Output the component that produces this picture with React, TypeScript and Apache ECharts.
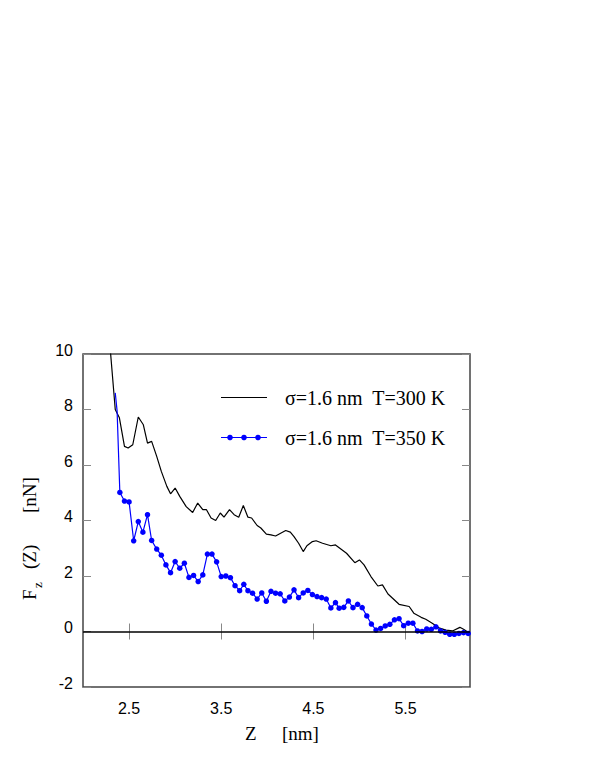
import React, { useEffect, useRef } from "react";
import * as echarts from "echarts";

// T = 300 K (black line): Z [nm], Fz [nN]
const blackZ = [2.29, 2.35, 2.395, 2.45, 2.49, 2.54, 2.6, 2.655, 2.7, 2.745, 2.8, 2.85, 2.91, 2.95, 3.0, 3.05, 3.12, 3.19, 3.245, 3.3, 3.34, 3.39, 3.44, 3.49, 3.53, 3.59, 3.64, 3.69, 3.74, 3.79, 3.83, 3.89, 3.93, 3.99, 4.04, 4.09, 4.15, 4.2, 4.25, 4.29, 4.34, 4.39, 4.43, 4.49, 4.53, 4.6, 4.69, 4.74, 4.78, 4.86, 4.95, 5.0, 5.05, 5.125, 5.2, 5.25, 5.31, 5.36, 5.43, 5.54, 5.59, 5.67, 5.72, 5.79, 5.87, 5.94, 6.01, 6.09, 6.13, 6.2];
const blackF = [10.4, 8.0, 7.7, 6.67, 6.61, 6.73, 7.73, 7.45, 6.79, 6.85, 6.31, 5.77, 5.23, 4.96, 5.17, 4.87, 4.5, 4.29, 4.63, 4.39, 4.39, 4.09, 4.0, 4.27, 4.12, 4.39, 4.21, 4.12, 4.54, 4.12, 4.09, 3.82, 3.73, 3.51, 3.48, 3.44, 3.55, 3.64, 3.58, 3.42, 3.18, 2.88, 3.09, 3.24, 3.27, 3.18, 3.09, 3.12, 3.02, 2.82, 2.48, 2.58, 2.4, 1.98, 1.64, 1.68, 1.35, 1.2, 0.98, 0.9, 0.66, 0.51, 0.44, 0.3, 0.12, 0.05, 0.02, 0.15, 0.08, -0.07];

// T = 350 K (blue line with dots)
const blueZ = [2.35, 2.37, 2.4, 2.45, 2.5, 2.55, 2.6, 2.65, 2.7, 2.745, 2.8, 2.85, 2.9, 2.95, 3.0, 3.05, 3.1, 3.15, 3.2, 3.25, 3.3, 3.35, 3.4, 3.45, 3.5, 3.55, 3.6, 3.65, 3.7, 3.745, 3.79, 3.84, 3.89, 3.94, 3.99, 4.04, 4.09, 4.14, 4.19, 4.24, 4.29, 4.34, 4.39, 4.44, 4.49, 4.54, 4.59, 4.64, 4.69, 4.74, 4.78, 4.83, 4.88, 4.93, 4.98, 5.03, 5.08, 5.13, 5.18, 5.23, 5.28, 5.33, 5.38, 5.43, 5.48, 5.53, 5.58, 5.63, 5.68, 5.73, 5.78, 5.83, 5.88, 5.93, 5.98, 6.03, 6.08, 6.13, 6.18];
const blueF = [8.6, 7.95, 5.01, 4.7, 4.67, 3.27, 3.96, 3.58, 4.21, 3.28, 2.97, 2.75, 2.4, 2.12, 2.52, 2.28, 2.46, 1.95, 2.02, 1.8, 2.04, 2.79, 2.79, 2.51, 1.98, 2.0, 1.94, 1.65, 1.47, 1.7, 1.47, 1.38, 1.17, 1.39, 1.09, 1.45, 1.38, 1.36, 1.1, 1.24, 1.5, 1.22, 1.39, 1.48, 1.33, 1.26, 1.22, 1.17, 0.85, 1.04, 0.84, 0.87, 1.1, 0.86, 0.98, 0.86, 0.56, 0.27, 0.05, 0.11, 0.2, 0.26, 0.42, 0.46, 0.21, 0.3, 0.3, 0.02, 0.0, 0.09, 0.08, 0.17, 0.02, -0.03, -0.1, -0.1, -0.07, -0.04, -0.07];
const blueFirstMarked = 2;

const xTicks = [2.5, 3.5, 4.5, 5.5];
const legendNames = ["σ=1.6 nm  T=300 K", "σ=1.6 nm  T=350 K"];

const SANS = "'Liberation Sans', Arial, Helvetica, sans-serif";
const SERIF = "'Liberation Serif', 'Times New Roman', serif";

export default function App() {
  const ref = useRef<HTMLDivElement>(null);
  useEffect(() => {
    if (!ref.current) return;
    const chart = echarts.init(ref.current, null, { renderer: "svg" });
    const tickStyle = { color: "#888", width: 1 };
    const option: any = {
      animation: false,
      backgroundColor: "#fff",
      grid: {
        left: 83,
        top: 354,
        right: 125,
        bottom: 83,
        show: true,
        borderColor: "#444",
        borderWidth: 1.5,
        backgroundColor: "transparent",
      },
      xAxis: [
        {
          type: "value",
          min: 2,
          max: 6.2,
          position: "bottom",
          axisLine: { show: false },
          axisTick: { show: true, inside: true, length: 8, lineStyle: tickStyle, customValues: xTicks },
          axisLabel: {
            customValues: xTicks,
            formatter: (v: number) => v.toFixed(1),
            color: "#000",
            fontSize: 16,
            fontFamily: SANS,
            margin: 13,
          },
          splitLine: { show: false },
        },
        {
          type: "value",
          min: 2,
          max: 6.2,
          position: "top",
          axisLine: { show: false },
          axisTick: { show: true, inside: true, length: 8, lineStyle: tickStyle, customValues: xTicks },
          axisLabel: { show: false },
          splitLine: { show: false },
        },
      ],
      yAxis: [
        {
          type: "value",
          min: -2,
          max: 10,
          interval: 2,
          position: "left",
          axisLine: { show: false },
          axisTick: { show: true, inside: true, length: 8, lineStyle: tickStyle },
          axisLabel: {
            color: "#000",
            fontSize: 16,
            fontFamily: SANS,
            margin: 10,
            verticalAlign: "bottom",
            lineHeight: 8,
          },
          splitLine: { show: false },
        },
        {
          type: "value",
          min: -2,
          max: 10,
          interval: 2,
          position: "right",
          axisLine: { show: false },
          axisTick: { show: true, inside: true, length: 8, lineStyle: tickStyle },
          axisLabel: { show: false },
          splitLine: { show: false },
        },
      ],
      series: [
        {
          name: legendNames[0],
          type: "line",
          xAxisIndex: 0,
          yAxisIndex: 0,
          data: blackZ.map((z, i) => [z, blackF[i]]),
          showSymbol: false,
          symbol: "none",
          clip: true,
          lineStyle: { color: "#000", width: 1.2 },
          z: 3,
          markLine: {
            silent: true,
            symbol: "none",
            label: { show: false },
            lineStyle: { color: "#000", width: 1.5, type: "solid" },
            data: [{ yAxis: 0 }],
          },
        },
        {
          name: legendNames[1],
          type: "line",
          xAxisIndex: 0,
          yAxisIndex: 0,
          data: blueZ.map((z, i) =>
            i < blueFirstMarked
              ? { value: [z, blueF[i]], symbol: "none" }
              : { value: [z, blueF[i]] }
          ),
          symbol: "circle",
          symbolSize: 5.5,
          clip: true,
          itemStyle: { color: "#0000ff" },
          lineStyle: { color: "#0000ff", width: 1.2 },
          z: 4,
        },
      ],
      graphic: [
        // legend
        { type: "line", shape: { x1: 221, y1: 397.5, x2: 267, y2: 397.5 }, style: { stroke: "#000", lineWidth: 1.2 } },
        {
          type: "text",
          x: 285,
          y: 397.5,
          style: { text: legendNames[0], font: `20px ${SERIF}`, fill: "#000", textVerticalAlign: "middle" },
        },
        { type: "line", shape: { x1: 221, y1: 437.5, x2: 267, y2: 437.5 }, style: { stroke: "#0000ff", lineWidth: 1.2 } },
        { type: "circle", shape: { cx: 230, cy: 437.5, r: 2.8 }, style: { fill: "#0000ff" } },
        { type: "circle", shape: { cx: 244, cy: 437.5, r: 2.8 }, style: { fill: "#0000ff" } },
        { type: "circle", shape: { cx: 258, cy: 437.5, r: 2.8 }, style: { fill: "#0000ff" } },
        {
          type: "text",
          x: 285,
          y: 437.5,
          style: { text: legendNames[1], font: `20px ${SERIF}`, fill: "#000", textVerticalAlign: "middle" },
        },
        // x axis title
        {
          type: "text",
          x: 245,
          y: 733,
          style: { text: "Z", font: `19px ${SERIF}`, fill: "#000", textVerticalAlign: "middle" },
        },
        {
          type: "text",
          x: 282,
          y: 733,
          style: { text: "[nm]", font: `19px ${SERIF}`, fill: "#000", textVerticalAlign: "middle" },
        },
        // y axis title (rotated)
        {
          type: "text",
          x: 29,
          y: 600,
          rotation: Math.PI / 2,
          style: { text: "F", font: `19px ${SERIF}`, fill: "#000", textAlign: "left", textVerticalAlign: "middle" },
        },
        {
          type: "text",
          x: 37,
          y: 588,
          rotation: Math.PI / 2,
          style: { text: "z", font: `13px ${SERIF}`, fill: "#000", textAlign: "left", textVerticalAlign: "middle" },
        },
        {
          type: "text",
          x: 29,
          y: 569,
          rotation: Math.PI / 2,
          style: { text: "(Z)", font: `19px ${SERIF}`, fill: "#000", textAlign: "left", textVerticalAlign: "middle" },
        },
        {
          type: "text",
          x: 29,
          y: 513,
          rotation: Math.PI / 2,
          style: { text: "[nN]", font: `19px ${SERIF}`, fill: "#000", textAlign: "left", textVerticalAlign: "middle" },
        },
      ],
    };
    chart.setOption(option);
    return () => chart.dispose();
  }, []);
  return (
    <div
      ref={ref}
      style={{ position: "fixed", left: 0, top: 0, width: 595, height: 770, background: "#fff" }}
    />
  );
}
